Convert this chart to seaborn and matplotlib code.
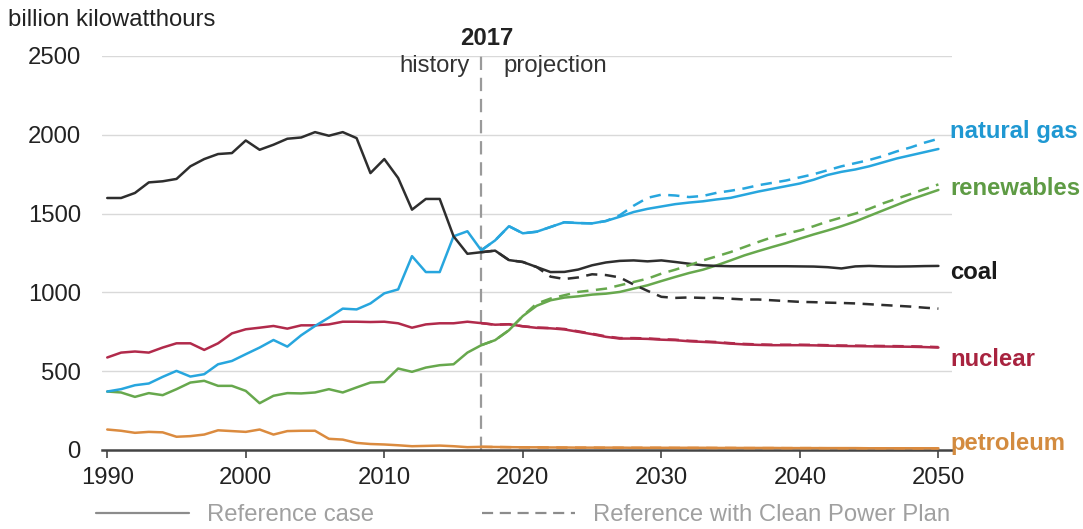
import numpy as np
import pandas as pd
import matplotlib
matplotlib.use("Agg")
import matplotlib.pyplot as plt
from matplotlib.lines import Line2D
import seaborn as sns

# ---------------- data ----------------
years_ref = list(range(1990, 2051))
years_cpp = list(range(2017, 2051))

coal_ref = [1599, 1599, 1631, 1698, 1705, 1720, 1800, 1846, 1878, 1884, 1964, 1905, 1937, 1975,
            1983, 2017, 1994, 2017, 1979, 1757, 1846, 1726, 1525, 1593, 1593, 1356, 1245,
            1255, 1265, 1205, 1193, 1161, 1129, 1130, 1145, 1172, 1190, 1200, 1203, 1197, 1203,
            1193, 1182, 1172, 1168, 1166, 1166, 1166, 1166, 1166, 1165, 1164, 1160, 1152, 1165,
            1168, 1165, 1164, 1165, 1167, 1168]
gas_ref = [371, 386, 411, 422, 464, 502, 466, 481, 544, 565, 608, 650, 698, 656, 728, 787, 840,
           897, 892, 930, 994, 1019, 1230, 1129, 1129, 1356, 1388,
           1267, 1330, 1420, 1375, 1385, 1415, 1445, 1440, 1438, 1453, 1480, 1510, 1530, 1545,
           1560, 1570, 1578, 1590, 1600, 1620, 1640, 1657, 1674, 1691, 1715, 1745, 1765, 1780,
           1800, 1825, 1850, 1870, 1890, 1910]
ren_ref = [371, 365, 337, 361, 348, 386, 428, 439, 407, 407, 375, 297, 344, 361, 359, 365, 386,
           365, 397, 428, 432, 517, 496, 523, 538, 544, 618,
           665, 697, 760, 850, 915, 950, 967, 975, 986, 992, 1003, 1024, 1045, 1072, 1098, 1123,
           1144, 1172, 1203, 1235, 1262, 1288, 1313, 1341, 1368, 1393, 1420, 1450, 1485, 1520,
           1555, 1590, 1620, 1650]
nuc_ref = [587, 618, 625, 618, 650, 677, 677, 635, 677, 740, 766, 776, 787, 770, 791, 791, 797,
           814, 814, 812, 814, 804, 776, 797, 804, 804, 814,
           805, 795, 798, 785, 775, 772, 765, 750, 735, 718, 707, 707, 705, 700, 697, 690, 686,
           682, 675, 670, 667, 665, 665, 665, 664, 662, 660, 659, 658, 657, 656, 655, 653, 650]
pet_ref = [130, 122, 109, 115, 112, 84, 88, 98, 125, 120, 115, 130, 98, 120, 122, 122, 71, 66,
           45, 38, 35, 30, 24, 26, 28, 24, 18,
           20, 19, 18, 17, 17, 16, 16, 15, 15, 15, 15, 14, 14, 14, 14, 14, 14, 13, 13, 13, 13,
           13, 12, 12, 12, 12, 12, 12, 11, 11, 11, 11, 11, 11]

coal_cpp = [1255, 1265, 1205, 1193, 1161, 1100, 1085, 1095, 1115, 1110, 1095, 1050, 1010, 972,
            965, 968, 965, 965, 960, 955, 955, 950, 945, 940, 938, 935, 933, 930, 925, 920, 915,
            910, 903, 897]
gas_cpp = [1267, 1330, 1420, 1375, 1385, 1415, 1445, 1440, 1438, 1453, 1490, 1550, 1600, 1620,
           1615, 1605, 1612, 1632, 1645, 1660, 1680, 1695, 1710, 1730, 1750, 1775, 1800, 1820,
           1840, 1865, 1895, 1920, 1950, 1975]
ren_cpp = [665, 697, 760, 850, 929, 961, 982, 1003, 1013, 1024, 1045, 1066, 1087, 1119, 1144,
           1172, 1203, 1229, 1256, 1288, 1320, 1350, 1372, 1393, 1420, 1450, 1475, 1500, 1530,
           1565, 1595, 1625, 1655, 1685]
nuc_cpp = [805, 795, 798, 785, 777, 774, 768, 753, 738, 721, 710, 710, 708, 703, 700, 693, 689,
           685, 678, 673, 670, 668, 668, 668, 667, 665, 663, 662, 661, 660, 659, 658, 656, 653]
pet_cpp = [20, 19, 18, 17, 16, 16, 15, 15, 15, 14, 14, 14, 14, 14, 13, 13, 13, 13, 13, 12, 12,
           12, 12, 12, 12, 11, 11, 11, 11, 11, 11, 10, 10, 10]

fuels = ["natural gas", "renewables", "coal", "nuclear", "petroleum"]
label_y = [2018, 1662, 1129, 577, 44]
x_ticks = [1990, 2000, 2010, 2020, 2030, 2040, 2050]
y_ticks = [0, 500, 1000, 1500, 2000, 2500]

line_colors = {"natural gas": "#27a6de", "renewables": "#67a84d", "coal": "#2e2e2e",
               "nuclear": "#b12a4b", "petroleum": "#db8b3f"}
text_colors = {"natural gas": "#1f98d2", "renewables": "#5e9b44", "coal": "#1a1a1a",
               "nuclear": "#a8233f", "petroleum": "#d38b3f"}

ref_vals = {"natural gas": gas_ref, "renewables": ren_ref, "coal": coal_ref,
            "nuclear": nuc_ref, "petroleum": pet_ref}
cpp_vals = {"natural gas": gas_cpp, "renewables": ren_cpp, "coal": coal_cpp,
            "nuclear": nuc_cpp, "petroleum": pet_cpp}

rows = []
for f in fuels:
    for y, v in zip(years_ref, ref_vals[f]):
        rows.append((f, "Reference case", y, v))
    for y, v in zip(years_cpp, cpp_vals[f]):
        rows.append((f, "Reference with Clean Power Plan", y, v))
df = pd.DataFrame(rows, columns=["fuel", "case", "year", "value"])

# ---------------- figure ----------------
sns.set_theme(style="white")
plt.rcParams["font.family"] = ["Liberation Sans", "DejaVu Sans"]
FS = 17.2

fig = plt.figure(figsize=(10.83, 5.29), dpi=100)
ax = fig.add_axes([101.7 / 1083, 1 - 450 / 529, 850 / 1083, 394 / 529])

ax.set_xlim(1989.6, 2050.96)
ax.set_ylim(0, 2500)

for yt in y_ticks[1:]:
    ax.axhline(yt, color="#d9d9d9", lw=1.0, zorder=0)

order = ["petroleum", "nuclear", "renewables", "natural gas", "coal"]
for f in order:
    sub = df[(df.fuel == f) & (df.case == "Reference case")]
    sns.lineplot(data=sub, x="year", y="value", ax=ax, color=line_colors[f], lw=1.8,
                 legend=False, errorbar=None, zorder=3)
for f in order:
    sub = df[(df.fuel == f) & (df.case == "Reference with Clean Power Plan")]
    sns.lineplot(data=sub, x="year", y="value", ax=ax, color=line_colors[f], lw=1.8,
                 legend=False, errorbar=None, zorder=4, dashes=False,
                 linestyle=(0, (4.5, 3)))

# history / projection divider
ax.axvline(2017, ymin=0, ymax=1, color="#9a9a9a", lw=1.6, ls=(0, (6, 3.5)), zorder=2)
ax.text(2017.4, 2614, "2017", ha="center", va="center", fontsize=FS, fontweight="bold",
        color="#222222", clip_on=False)
ax.text(2016.2, 2437, "history", ha="right", va="center", fontsize=FS, color="#333333")
ax.text(2018.6, 2437, "projection", ha="left", va="center", fontsize=FS, color="#333333")

# series labels
for f, yv in zip(fuels, label_y):
    ax.text(2050.85, yv, f, ha="left", va="center", fontsize=FS, fontweight="bold",
            color=text_colors[f], clip_on=False)

# axes styling
for s in ["top", "right", "left"]:
    ax.spines[s].set_visible(False)
ax.spines["bottom"].set_color("#444444")
ax.spines["bottom"].set_linewidth(1.8)
ax.set_xticks(x_ticks)
ax.set_yticks(y_ticks)
ax.set_xticklabels([str(v) for v in x_ticks])
ax.set_yticklabels([str(v) for v in y_ticks])
ax.tick_params(axis="x", which="both", bottom=True, length=6, width=1.2, color="#444444",
               labelsize=FS, labelcolor="#222222", pad=6)
ax.tick_params(axis="y", which="both", left=False, length=0, labelsize=FS,
               labelcolor="#222222", pad=15)
ax.set_xlabel("")
ax.set_ylabel("")

fig.text(8 / 1083, 1 - 20 / 529, "billion kilowatthours", ha="left", va="center",
         fontsize=FS, color="#222222")

handles = [Line2D([], [], color="#8c8c8c", lw=1.6),
           Line2D([], [], color="#8c8c8c", lw=1.6, ls=(0, (5, 3)))]
leg = fig.legend(handles, ["Reference case", "Reference with Clean Power Plan"],
                 loc="center left", bbox_to_anchor=(96 / 1083, 1 - 515 / 529), ncol=2,
                 frameon=False, fontsize=FS, handlelength=3.9, handletextpad=0.75,
                 columnspacing=4.5, borderpad=0, borderaxespad=0)
for t in leg.get_texts():
    t.set_color("#a0a0a0")

fig.savefig("out.png", dpi=100)
